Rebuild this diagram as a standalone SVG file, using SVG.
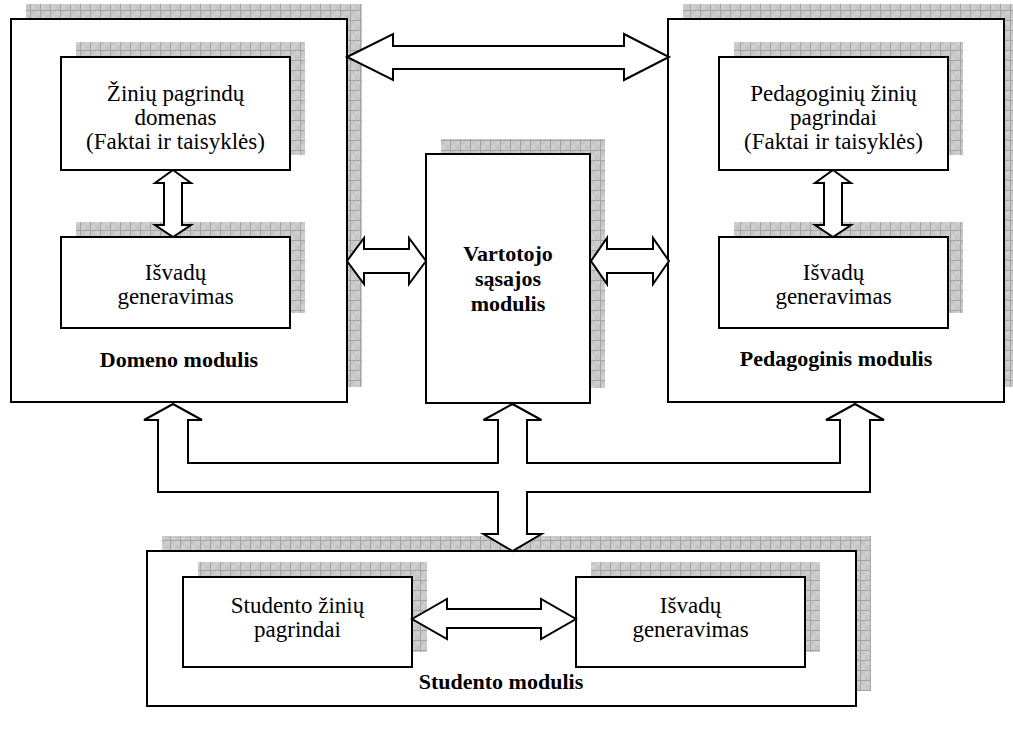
<svg xmlns="http://www.w3.org/2000/svg" width="1013" height="734" viewBox="0 0 1013 734">
  <defs>
    <!-- grey gridded fill used for the drop shadows -->
    <pattern id="grid" x="0" y="0" width="10" height="10" patternUnits="userSpaceOnUse">
      <rect width="10" height="10" fill="#cfcfcf"/>
      <rect x="0" y="0" width="5" height="5" fill="#c6c6c6"/>
      <rect x="5" y="5" width="5" height="5" fill="#c6c6c6"/>
      <path d="M0 0.5 H10 M0.5 0 V10" stroke="#a4a4a4" stroke-width="1"/>
    </pattern>
  </defs>
  <style>
    .shadow { fill: url(#grid); stroke: none; }
    .box { fill: #ffffff; stroke: #000000; stroke-width: 2; }
    .arrow { fill: #ffffff; stroke: #000000; stroke-width: 2; stroke-linejoin: miter; }
    .t { font-family: "Liberation Serif", "Times New Roman", serif; font-size: 23px; text-anchor: middle; fill: #000000; }
    .b { font-weight: bold; font-size: 22px; }
  </style>
  <rect width="1013" height="734" fill="#ffffff"/>

  <!-- Domain module -->
  <g id="domeno-modulis">
    <rect class="shadow" x="26" y="4" width="336" height="383"/>
    <rect class="box" x="11" y="19" width="336" height="383"/>
    <text class="t b" x="179" y="367">Domeno modulis</text>
  </g>
  <g id="domeno-ziniu-pagrindai">
    <rect class="shadow" x="76" y="42" width="229" height="113"/>
    <rect class="box" x="61" y="57" width="229" height="113"/>
    <text class="t" x="175.5" y="101">Žinių pagrindų</text>
    <text class="t" x="175.5" y="125">domenas</text>
    <text class="t" x="175.5" y="149">(Faktai ir taisyklės)</text>
  </g>
  <g id="domeno-isvadu-generavimas">
    <rect class="shadow" x="76" y="222" width="229" height="91"/>
    <rect class="box" x="61" y="237" width="229" height="91"/>
    <text class="t" x="175.5" y="280">Išvadų</text>
    <text class="t" x="175.5" y="304">generavimas</text>
  </g>

  <!-- User interface module -->
  <g id="vartotojo-sasajos-modulis">
    <rect class="shadow" x="441" y="139" width="164" height="249"/>
    <rect class="box" x="426" y="154" width="164" height="249"/>
    <text class="t b" x="508" y="261">Vartotojo</text>
    <text class="t b" x="508" y="286">sąsajos</text>
    <text class="t b" x="508" y="311">modulis</text>
  </g>

  <!-- Pedagogical module -->
  <g id="pedagoginis-modulis">
    <rect class="shadow" x="683" y="4" width="336" height="383"/>
    <rect class="box" x="668" y="19" width="336" height="383"/>
    <text class="t b" x="836" y="366">Pedagoginis modulis</text>
  </g>
  <g id="pedagoginiu-ziniu-pagrindai">
    <rect class="shadow" x="734" y="42" width="229" height="113"/>
    <rect class="box" x="719" y="57" width="229" height="113"/>
    <text class="t" x="833.5" y="101">Pedagoginių žinių</text>
    <text class="t" x="833.5" y="125">pagrindai</text>
    <text class="t" x="833.5" y="149">(Faktai ir taisyklės)</text>
  </g>
  <g id="pedagoginis-isvadu-generavimas">
    <rect class="shadow" x="734" y="222" width="229" height="91"/>
    <rect class="box" x="719" y="237" width="229" height="91"/>
    <text class="t" x="833.5" y="280">Išvadų</text>
    <text class="t" x="833.5" y="304">generavimas</text>
  </g>

  <!-- Student module -->
  <g id="studento-modulis">
    <rect class="shadow" x="162" y="536" width="709" height="155"/>
    <rect class="box" x="147" y="551" width="709" height="155"/>
    <text class="t b" x="501" y="689">Studento modulis</text>
  </g>
  <g id="studento-ziniu-pagrindai">
    <rect class="shadow" x="198" y="562" width="229" height="90"/>
    <rect class="box" x="183" y="577" width="229" height="90"/>
    <text class="t" x="297.5" y="613">Studento žinių</text>
    <text class="t" x="297.5" y="637">pagrindai</text>
  </g>
  <g id="studento-isvadu-generavimas">
    <rect class="shadow" x="591" y="562" width="229" height="90"/>
    <rect class="box" x="576" y="577" width="229" height="90"/>
    <text class="t" x="690.5" y="613">Išvadų</text>
    <text class="t" x="690.5" y="637">generavimas</text>
  </g>

  <!-- Block double arrows -->
  <g id="connectors">
    <!-- domain module <-> pedagogical module -->
    <polygon class="arrow" points="347,57 393,34 393,46 624,46 624,34 669,57 624,80 624,69 393,69 393,80"/>
    <!-- domain knowledge base <-> inference -->
    <polygon class="arrow" points="173,170 191,183 182,183 182,225 191,225 173,237 155,225 164,225 164,183 155,183"/>
    <!-- pedagogical knowledge base <-> inference -->
    <polygon class="arrow" points="833,170 851,183 842,183 842,225 851,225 833,237 815,225 824,225 824,183 815,183"/>
    <!-- domain module <-> user interface -->
    <polygon class="arrow" points="347,261 364,238 364,249 409,249 409,238 426,261 409,284 409,273 364,273 364,284"/>
    <!-- user interface <-> pedagogical module -->
    <polygon class="arrow" points="591,261 607,238 607,249 653,249 653,238 669,261 653,284 653,273 607,273 607,284"/>
    <!-- student module bus to the three upper modules -->
    <polygon class="arrow" points="173,404 202,420 188,420 188,463 498,463 498,420 483.5,420 512.5,404 541.5,420 527,420 527,463 840,463 840,420 826,420 855,404 884,420 870,420 870,492 527,492 527,534 541.5,534 512.5,551 483.5,534 498,534 498,492 158,492 158,420 144,420"/>
    <!-- student knowledge base <-> inference -->
    <polygon class="arrow" points="412,619 447,599 447,609 541,609 541,599 576,619 541,639 541,628 447,628 447,639"/>
  </g>
</svg>
